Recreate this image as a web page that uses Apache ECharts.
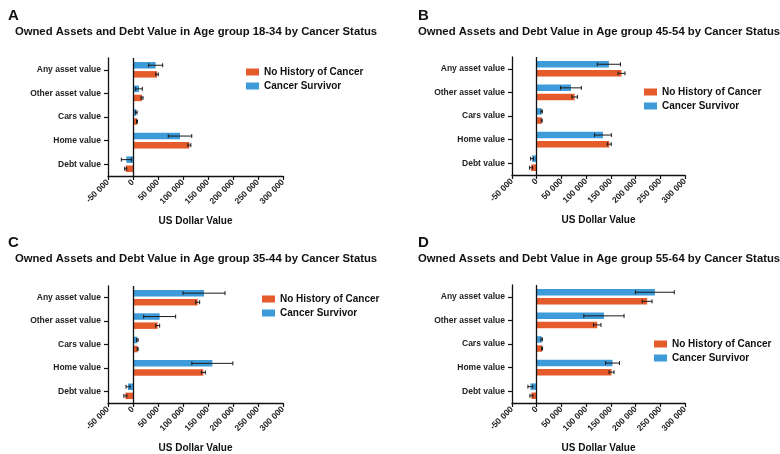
<!DOCTYPE html>
<html>
<head>
<meta charset="utf-8">
<script src="https://cdn.jsdelivr.net/npm/echarts@6/dist/echarts.min.js"></script>
<style>html,body{margin:0;padding:0;background:#fff}#c{width:780px;height:454px}</style>
</head>
<body>
<div id="c"></div>
<script>
// ---- Data ----
const categories = ['Debt value', 'Home value', 'Cars value', 'Other asset value', 'Any asset value'];
const seriesNames = ['No History of Cancer', 'Cancer Survivor'];
const panelLetters = ['A', 'B', 'C', 'D'];
const panelTitles = [
  'Owned Assets and Debt Value in Age group 18-34 by Cancer Status',
  'Owned Assets and Debt Value in Age group 45-54 by Cancer Status',
  'Owned Assets and Debt Value in Age group 35-44 by Cancer Status',
  'Owned Assets and Debt Value in Age group 55-64 by Cancer Status'
];
const xTicks = [-50000, 0, 50000, 100000, 150000, 200000, 250000, 300000];
const xAxisName = 'US Dollar Value';

// Panel A (18-34)
const noHistA = [-14700, 112700, 8000, 18000, 48000];
const noHistErrA = [2000, 3000, 1000, 2000, 2500];
const survA = [-13300, 94000, 6700, 12000, 45300];
const survErrA = [10000, 23500, 1500, 6700, 14000];
// Panel B (45-54)
const noHistB = [-11400, 146700, 10000, 76700, 171600];
const noHistErrB = [3000, 4000, 1000, 5500, 7000];
const survB = [-9400, 134000, 10000, 69300, 146000];
const survErrB = [3000, 17000, 1500, 21000, 23500];
// Panel C (35-44)
const noHistC = [-15300, 140700, 9300, 49300, 129300];
const noHistErrC = [3000, 4000, 1000, 4000, 4000];
const survC = [-10000, 158700, 8700, 53300, 142000];
const survErrC = [4000, 41000, 1500, 32000, 42000];
// Panel D (55-64)
const noHistD = [-10800, 151400, 10800, 122500, 223400];
const noHistErrD = [3000, 5000, 1000, 7500, 10000];
const survD = [-12800, 153400, 10000, 136000, 239000];
const survErrD = [5000, 14000, 1500, 40700, 39300];

const panels = [
  {nh: noHistA, nhe: noHistErrA, cs: survA, cse: survErrA},
  {nh: noHistB, nhe: noHistErrB, cs: survB, cse: survErrB},
  {nh: noHistC, nhe: noHistErrC, cs: survC, cse: survErrC},
  {nh: noHistD, nhe: noHistErrD, cs: survD, cse: survErrD}
];

// ---- Layout / style ----
const FONT = 'Liberation Sans, Arial, sans-serif';
const ORANGE = '#E65B2B';
const BLUE = '#3D9BD9';
const BAR_W = 6.5;
const GAP_PCT = 0.4;
const grids = [
  {left: 108, top: 58, width: 175, height: 118},
  {left: 512, top: 57, width: 173, height: 118},
  {left: 108, top: 286, width: 175, height: 118},
  {left: 512, top: 285, width: 173, height: 118}
];
const letterPos = [[3, 3], [413, 3], [3, 230], [413, 230]];
const titleCenters = [[191, 21], [594, 21], [191, 248], [594, 248]];
const legendPos = [[241, 62], [639, 82], [257, 289], [649, 334]];

function fmt(v) {
  const s = Math.abs(v).toString().replace(/\B(?=(\d{3})+(?!\d))/g, ' ');
  return (v < 0 ? '-' : '') + s;
}

const option = {
  animation: false,
  backgroundColor: '#fff',
  textStyle: {fontFamily: FONT},
  title: [],
  legend: [],
  grid: [],
  xAxis: [],
  yAxis: [],
  series: []
};

// first bar series sits on top of each band (survivor), second below (no history)
const offSign = {cs: -1, nh: 1};
const barOffset = (BAR_W + BAR_W * GAP_PCT) / 2;

panels.forEach((p, i) => {
  option.title.push({
    text: panelLetters[i], left: letterPos[i][0], top: letterPos[i][1],
    textStyle: {fontFamily: FONT, fontSize: 15, fontWeight: 'bold', color: '#111'}
  });
  option.title.push({
    text: panelTitles[i], left: titleCenters[i][0], top: titleCenters[i][1], textAlign: 'center',
    textStyle: {fontFamily: FONT, fontSize: 11.3, fontWeight: 'bold', color: '#111'}
  });
  option.legend.push({
    data: seriesNames, orient: 'vertical', left: legendPos[i][0], top: legendPos[i][1],
    itemWidth: 13, itemHeight: 7, itemGap: 4, icon: 'rect', selectedMode: false,
    textStyle: {fontFamily: FONT, fontSize: 10, fontWeight: 'bold', color: '#111'}
  });
  option.grid.push(Object.assign({containLabel: false}, grids[i]));
  option.xAxis.push({
    type: 'value', gridIndex: i, min: xTicks[0], max: xTicks[xTicks.length - 1], interval: 50000,
    name: xAxisName, nameLocation: 'middle', nameGap: 40,
    nameTextStyle: {fontFamily: FONT, fontSize: 10, fontWeight: 'bold', color: '#111'},
    axisLine: {show: true, onZero: false, lineStyle: {color: '#111', width: 1.3}},
    axisTick: {show: true, length: 4, lineStyle: {color: '#111', width: 1.2}},
    splitLine: {show: false},
    axisLabel: {rotate: 45, margin: 5, formatter: fmt, fontFamily: FONT, fontSize: 8.5, fontWeight: 'bold', color: '#222'}
  });
  option.yAxis.push({
    type: 'category', gridIndex: i, data: categories,
    axisLine: {show: true, onZero: false, lineStyle: {color: '#111', width: 1.3}},
    axisTick: {show: true, alignWithLabel: true, length: 4, lineStyle: {color: '#111', width: 1.2}},
    axisLabel: {margin: 7, fontFamily: FONT, fontSize: 8.5, fontWeight: 'bold', color: '#222'}
  });
  option.series.push({
    name: seriesNames[1], type: 'bar', xAxisIndex: i, yAxisIndex: i,
    data: p.cs, barWidth: BAR_W, barGap: (GAP_PCT * 100) + '%',
    itemStyle: {color: BLUE},
    markLine: {
      silent: true, symbol: 'none', label: {show: false},
      lineStyle: {color: '#111', type: 'solid', width: 1.3},
      data: [{xAxis: 0}]
    }
  });
  option.series.push({
    name: seriesNames[0], type: 'bar', xAxisIndex: i, yAxisIndex: i,
    data: p.nh, barWidth: BAR_W, barGap: (GAP_PCT * 100) + '%',
    itemStyle: {color: ORANGE}
  });
  const errData = [];
  categories.forEach((c, k) => {
    errData.push([k, p.nh[k], p.nhe[k], offSign.nh]);
    errData.push([k, p.cs[k], p.cse[k], offSign.cs]);
  });
  option.series.push({
    type: 'custom', xAxisIndex: i, yAxisIndex: i, data: errData, z: 5, silent: true,
    renderItem: function (params, api) {
      const cat = api.value(0), v = api.value(1), e = api.value(2), s = api.value(3);
      const c = api.coord([v, cat]);
      const y = c[1] + s * barOffset;
      const lo = api.coord([v - e, cat])[0];
      const hi = api.coord([v + e, cat])[0];
      const h = 2;
      const st = {stroke: '#1a1a1a', lineWidth: 1};
      return {type: 'group', children: [
        {type: 'line', shape: {x1: lo, y1: y, x2: hi, y2: y}, style: st},
        {type: 'line', shape: {x1: lo, y1: y - h, x2: lo, y2: y + h}, style: st},
        {type: 'line', shape: {x1: hi, y1: y - h, x2: hi, y2: y + h}, style: st}
      ]};
    }
  });
});

const chart = echarts.init(document.getElementById('c'), null, {renderer: 'canvas'});
chart.setOption(option);
</script>
</body>
</html>
